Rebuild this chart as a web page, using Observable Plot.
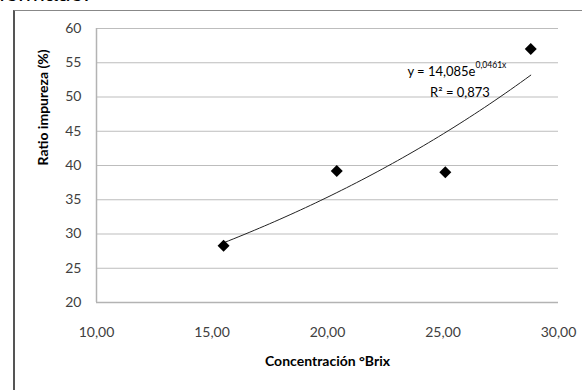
<!DOCTYPE html>
<html><head><meta charset="utf-8">
<script src="https://cdn.jsdelivr.net/npm/d3@7"></script>
<script src="https://cdn.jsdelivr.net/npm/@observablehq/plot@0.6"></script>
<style>
body{margin:0;background:#fff;width:582px;height:390px;overflow:hidden;position:relative;font-family:Lato,sans-serif}
#above{position:absolute;left:-1px;top:-18px;font-size:23px;color:#000;font-family:"Liberation Sans",Arial,sans-serif;line-height:1}
#frame{position:absolute;left:13px;top:10px;right:-5px;bottom:-5px;border-left:2px solid #555;border-top:1px solid #888}
#chart{position:absolute;left:0;top:0}
</style></head><body>
<div id="above">formado.</div>
<div id="frame"></div>
<div id="chart"></div>
<script>
// Data
const brix = [15.5, 20.4, 25.1, 28.8];
const ratio = [28.3, 39.2, 39.0, 57.0];
const xTicks = [10, 15, 20, 25, 30];
const yTicks = [20, 25, 30, 35, 40, 45, 50, 55, 60];
const xLabel = "Concentración °Brix";
const yLabel = "Ratio impureza (%)";
const eqMain = "y = 14,085e";
const eqExp = "0,0461x";
const eqR2 = "R² = 0,873";

const points = brix.map((x, i) => ({x, y: ratio[i]}));

// Exponential least-squares fit (as a spreadsheet trendline does)
const lx = brix, ly = ratio.map(Math.log);
const mx = d3.mean(lx), my = d3.mean(ly);
const b = d3.sum(lx.map((x, i) => (x - mx) * (ly[i] - my))) / d3.sum(lx.map(x => (x - mx) ** 2));
const a = Math.exp(my - b * mx);
const [x0, x1] = d3.extent(brix);
const trend = d3.range(0, 61).map(i => {
  const x = x0 + (x1 - x0) * i / 60;
  return {x, y: a * Math.exp(b * x)};
});

const fmt = d => d.toFixed(2).replace(".", ",");

const plot = Plot.plot({
  width: 582, height: 390,
  marginLeft: 96, marginRight: 24, marginTop: 28, marginBottom: 88,
  style: {background: "transparent", fontFamily: "Lato, sans-serif", fontSize: "14px", color: "#404040", overflow: "visible"},
  x: {domain: [10, 30]},
  y: {domain: [20, 60]},
  marks: [
    Plot.gridY(yTicks, {stroke: "#bdbdbd", strokeOpacity: 1, strokeWidth: 1}),
    Plot.ruleX([10], {stroke: "#b3b3b3", strokeWidth: 1.5}),
    Plot.ruleY([20], {stroke: "#b3b3b3", strokeWidth: 1.5}),
    Plot.axisX(xTicks, {tickFormat: fmt, tickSize: 0, tickPadding: 25, label: null, fill: "#404040"}),
    Plot.axisY(yTicks, {tickSize: 0, tickPadding: 15, label: null, fill: "#404040"}),
    Plot.line(trend, {x: "x", y: "y", stroke: "#222", strokeWidth: 1}),
    Plot.dot(points, {x: "x", y: "y", symbol: "diamond2", r: 5.4, fill: "#000", stroke: "none"}),
    Plot.text([xLabel], {text: d => d, frameAnchor: "bottom", dy: 63, fontWeight: "bold", fontSize: 14, fill: "#000"}),
    Plot.text([yLabel], {text: d => d, frameAnchor: "left", dx: -53, rotate: -90, fontWeight: "bold", fontSize: 14, fill: "#000"}),
    Plot.text([eqMain], {text: d => d, frameAnchor: "top-right", dx: -83, dy: 38, textAnchor: "end", fontSize: 13, fill: "#000"}),
    Plot.text([eqExp], {text: d => d, frameAnchor: "top-right", dx: -83, dy: 33.5, textAnchor: "start", fontSize: 8.5, fill: "#000"}),
    Plot.text([eqR2], {text: d => d, frameAnchor: "top-right", dx: -98.5, dy: 59, textAnchor: "middle", fontSize: 13, fill: "#000"})
  ]
});
document.getElementById("chart").append(plot);
</script>
</body></html>
